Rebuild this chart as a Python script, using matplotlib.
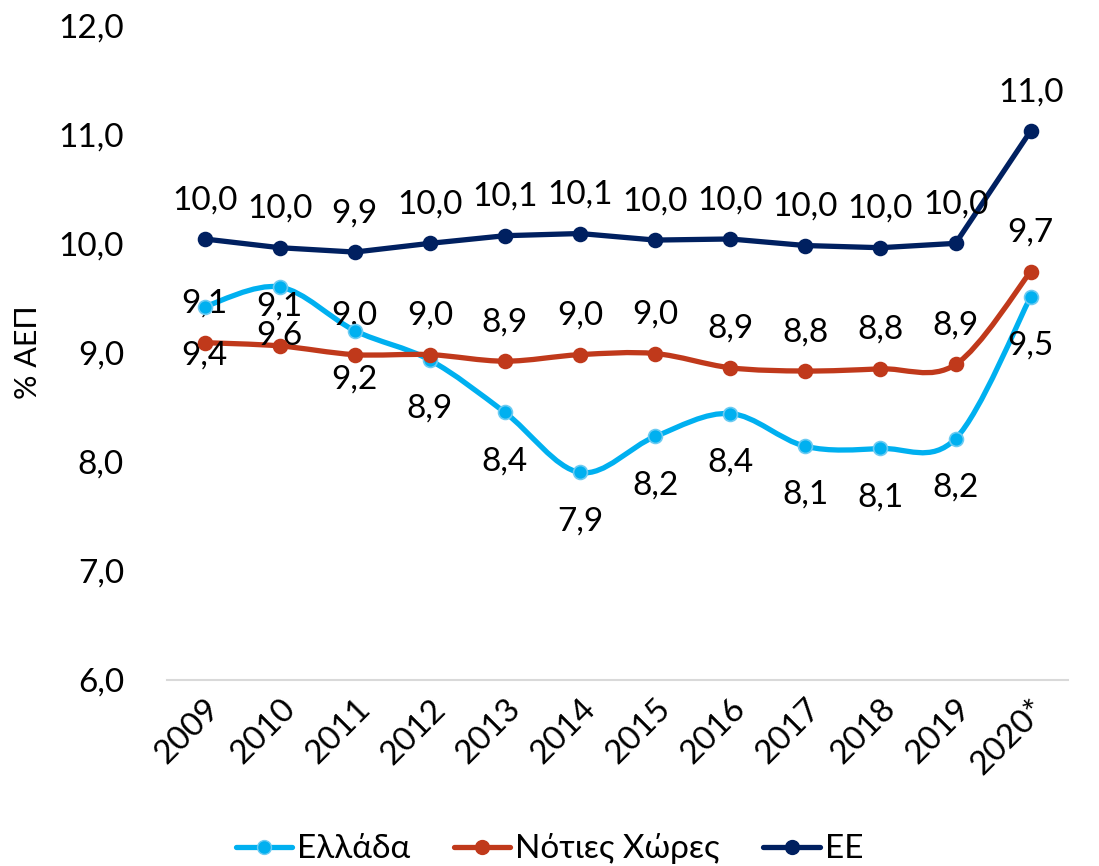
import matplotlib.pyplot as plt
from matplotlib.path import Path
from matplotlib.patches import PathPatch
from matplotlib.lines import Line2D

plt.rcParams['font.family'] = ['Lato', 'DejaVu Sans']

years = ['2009', '2010', '2011', '2012', '2013', '2014', '2015', '2016',
         '2017', '2018', '2019', '2020*']
greece = [9.42, 9.60, 9.20, 8.93, 8.45, 7.90, 8.23, 8.44, 8.14, 8.12, 8.21, 9.51]
south = [9.09, 9.06, 8.98, 8.98, 8.92, 8.98, 8.99, 8.86, 8.83, 8.85, 8.89, 9.74]
eu = [10.04, 9.96, 9.92, 10.00, 10.07, 10.09, 10.03, 10.04, 9.98, 9.96, 10.00, 11.03]

series_names = ['Ελλάδα', 'Νότιες Χώρες', 'ΕΕ']
colors = ['#00B0F0', '#C0391B', '#002060']
edge_colors = ['#6CCBF2', '#C0391B', '#002060']
smoothed = [True, True, False]


def smooth_path(xs, ys, k=1 / 6):
    # excel style smoothing: bezier through every point
    verts = [(xs[0], ys[0])]
    codes = [Path.MOVETO]
    n = len(xs)
    for i in range(n - 1):
        x0, y0 = (xs[i - 1], ys[i - 1]) if i > 0 else (xs[i], ys[i])
        x1, y1 = xs[i], ys[i]
        x2, y2 = xs[i + 1], ys[i + 1]
        x3, y3 = (xs[i + 2], ys[i + 2]) if i + 2 < n else (x2, y2)
        c1 = (x1 + (x2 - x0) * k, y1 + (y2 - y0) * k)
        c2 = (x2 - (x3 - x1) * k, y2 - (y3 - y1) * k)
        verts += [c1, c2, (x2, y2)]
        codes += [Path.CURVE4] * 3
    return Path(verts, codes)


def fmt(v):
    return f'{v:.1f}'.replace('.', ',')


fig = plt.figure(figsize=(10.99, 8.66), dpi=100)
ax = fig.add_axes([0.152, 0.215, 0.820, 0.756])

x = list(range(len(years)))
all_series = [greece, south, eu]
for vals, col, ecol, sm in zip(all_series, colors, edge_colors, smoothed):
    if sm:
        ax.add_patch(PathPatch(smooth_path(x, vals), facecolor='none', edgecolor=col,
                               lw=3.8, capstyle='round', zorder=3))
    else:
        ax.plot(x, vals, '-', color=col, lw=3.8, solid_capstyle='round', zorder=3)
    ax.plot(x, vals, 'o', color=col, markeredgecolor=ecol, markeredgewidth=1.2,
            markersize=10, zorder=4)

for i, v in enumerate(greece):
    ax.annotate(fmt(v), (i, v), xytext=(0, -35), textcoords='offset points',
                ha='center', va='center', fontsize=24)
for i, v in enumerate(south):
    ax.annotate(fmt(v), (i, v), xytext=(0, 28), textcoords='offset points',
                ha='center', va='center', fontsize=24)
for i, v in enumerate(eu):
    ax.annotate(fmt(v), (i, v), xytext=(0, 28), textcoords='offset points',
                ha='center', va='center', fontsize=24)

ticks = [6, 7, 8, 9, 10, 11, 12]
ax.set_xlim(-0.5, len(years) - 0.5)
ax.set_ylim(6, 12)
ax.set_yticks(ticks)
ax.set_yticklabels([fmt(t) for t in ticks])
ax.set_xticks(x)
ax.set_xticklabels(years, rotation=45, ha='right', rotation_mode='anchor')
ax.tick_params(axis='both', length=0, labelsize=24)
ax.tick_params(axis='y', pad=31)
ax.tick_params(axis='x', pad=10)
ax.set_ylabel('% ΑΕΠ', fontsize=22, labelpad=12)

for s in ['top', 'right', 'left']:
    ax.spines[s].set_visible(False)
ax.spines['bottom'].set_color('#D9D9D9')
ax.spines['bottom'].set_linewidth(1.5)

handles = [Line2D([0], [0], color=c, lw=3.8, marker='o', markersize=10,
                  markeredgecolor=e, solid_capstyle='round')
           for c, e in zip(colors, edge_colors)]
fig.legend(handles, series_names, loc='center', bbox_to_anchor=(0.5, 0.02),
           ncol=3, frameon=False, fontsize=24, handlelength=1.7,
           handletextpad=0.15, columnspacing=1.3)

plt.savefig('out.png', dpi=100)
